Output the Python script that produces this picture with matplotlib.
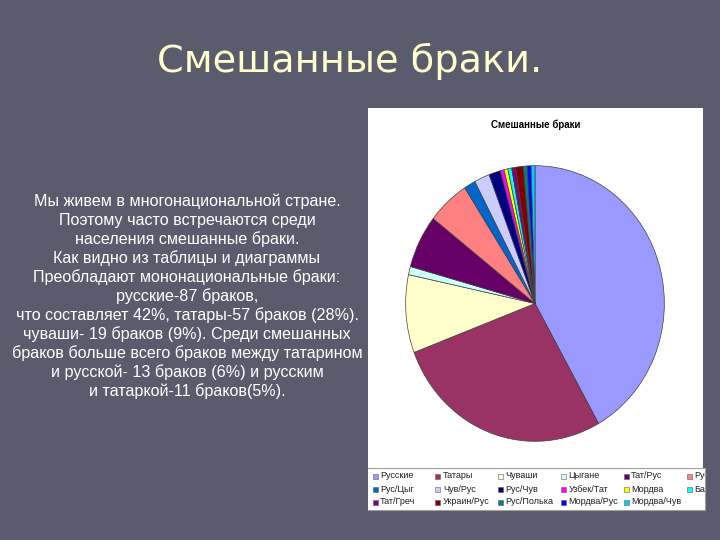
import matplotlib
matplotlib.use('Agg')
import matplotlib.pyplot as plt
from matplotlib.patches import Rectangle

# data
categories = ['Русские', 'Татары', 'Чуваши', 'Цыгане', 'Тат/Рус', 'Рус/Тат',
              'Рус/Цыг', 'Чув/Рус', 'Рус/Чув', 'Узбек/Тат', 'Мордва', 'Баш/Тат',
              'Тат/Греч', 'Украин/Рус', 'Рус/Полька', 'Мордва/Рус', 'Мордва/Чув']
counts = [87, 57, 19, 2, 13, 11, 3, 4, 3, 1, 1, 1, 1, 2, 1, 1, 1]
colors = ['#9999ff', '#993366', '#ffffcc', '#ccffff', '#660066', '#ff8080',
          '#0066cc', '#ccccff', '#000080', '#ff00ff', '#ffff00', '#00ffff',
          '#800080', '#800000', '#008080', '#0000ff', '#00ccff']

slide_title = 'Смешанные браки.'
chart_title = 'Смешанные браки'
body_lines = [
    'Мы живем в многонациональной стране.',
    'Поэтому часто встречаются среди',
    'населения смешанные браки.',
    'Как видно из таблицы и диаграммы',
    'Преобладают мононациональные браки:',
    'русские-87 браков,',
    'что составляет 42%, татары-57 браков (28%).',
    'чуваши- 19 браков (9%). Среди смешанных',
    'браков больше всего браков между татарином',
    'и русской- 13 браков (6%) и русским',
    'и татаркой-11 браков(5%).',
]

W, H = 720, 540
bg = '#5a5c6d'
fig = plt.figure(figsize=(7.2, 5.4), dpi=100)
fig.patch.set_facecolor(bg)


def rect(x, y, w, h):
    # pixel box (top-left origin) -> figure fraction
    return [x / W, 1 - (y + h) / H, w / W, h / H]


# slide texts
fig.text(350 / W, 1 - 61 / H, slide_title, ha='center', va='center',
         color='#ffffcc', fontsize=27.5, family='DejaVu Sans')
for i, line in enumerate(body_lines):
    fig.text(187 / W, 1 - (201 + i * 19) / H, line, ha='center', va='center',
             color='white', fontsize=11.6, family='Liberation Sans')

# white chart panel
panel = fig.add_axes(rect(368, 108, 335, 402))
panel.set_facecolor('white')
panel.set_xticks([])
panel.set_yticks([])
for s in panel.spines.values():
    s.set_visible(False)
panel.text(0.5, 1 - 17 / 402, chart_title, ha='center', va='center',
           fontsize=7, fontweight='bold', family='Liberation Sans',
           transform=panel.transAxes)

# pie (Excel draws it slightly taller than wide)
ax = fig.add_axes(rect(405, 165, 260, 277))
ax.pie(counts, colors=colors, startangle=90, counterclock=False,
       wedgeprops=dict(edgecolor='#404040', linewidth=0.5))
ax.set_aspect('auto')
ax.set_xlim(-1.005, 1.005)
ax.set_ylim(-1.005, 1.005)
ax.axis('off')

# legend box, clipped on the right like the original
lax = fig.add_axes(rect(368, 468, 337, 42))
lax.set_xlim(368, 705)
lax.set_ylim(510, 468)
lax.set_facecolor('white')
lax.set_xticks([])
lax.set_yticks([])
for s in lax.spines.values():
    s.set_color('#a0a0a0')
    s.set_linewidth(0.8)
lax.spines['left'].set_visible(False)

ncol = 6
for i, (name, c) in enumerate(zip(categories, colors)):
    row, col = divmod(i, ncol)
    x = 375 + col * 62.8
    y = 476 + row * 13
    lax.add_patch(Rectangle((x - 2.5, y - 2.5), 5, 5, facecolor=c,
                            edgecolor='#606060', linewidth=0.4, clip_on=True))
    lax.text(x + 5, y, name, ha='left', va='center', fontsize=6.5,
             family='Liberation Sans', color='#202020', clip_on=True)

fig.savefig('out.png', dpi=100, facecolor=bg)
